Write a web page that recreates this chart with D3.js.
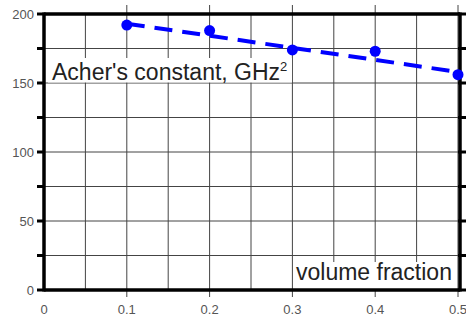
<!DOCTYPE html>
<html><head><meta charset="utf-8">
<script src="https://cdn.jsdelivr.net/npm/d3@7"></script>
<style>body{margin:0;background:#fff}svg{display:block}</style>
</head><body>
<script>
const xVals = [0.1, 0.2, 0.3, 0.4, 0.5];
const yVals = [192, 188, 174, 173, 156];
const fitX = [0.1, 0.5];
const fitY = [193, 158];
const xTicks = [0, 0.1, 0.2, 0.3, 0.4, 0.5];
const xTickLabels = ["0", "0.1", "0.2", "0.3", "0.4", "0.5"];
const yTicks = [0, 50, 100, 150, 200];
const yTickLabels = ["0", "50", "100", "150", "200"];
const xGrid = [0.05, 0.1, 0.15, 0.2, 0.25, 0.3, 0.35, 0.4, 0.45, 0.5];
const yGrid = [25, 50, 75, 100, 125, 150, 175, 200];

const W = 466, H = 320;
const FONT = "Arial, Liberation Sans, sans-serif";
const svg = d3.select("body").append("svg").attr("width", W).attr("height", H);
const x = d3.scaleLinear().domain([0, 0.5]).range([44, 458]);
const y = d3.scaleLinear().domain([0, 200]).range([290, 14]);

const grid = svg.append("g").attr("stroke", "#444").attr("stroke-width", 1);
xGrid.forEach(v => {
  const major = Math.abs(v*10 - Math.round(v*10)) < 1e-6;
  grid.append("line").attr("x1", x(v)).attr("x2", x(v))
    .attr("y1", major ? 5 : y(200)).attr("y2", major ? 297 : y(0));
});
yGrid.forEach(v => {
  grid.append("line").attr("x1", x(0)).attr("x2", x(0.5)).attr("y1", y(v)).attr("y2", y(v));
});
// thick ticks on left and right
const tk = svg.append("g").attr("stroke", "#000").attr("stroke-width", 3);
yGrid.concat([0]).forEach(v => {
  tk.append("line").attr("x1", 37).attr("x2", x(0)).attr("y1", y(v)).attr("y2", y(v));
  tk.append("line").attr("x1", x(0.5)).attr("x2", W).attr("y1", y(v)).attr("y2", y(v));
});

// label boxes (white, hiding grid)
svg.append("rect").attr("x", 48).attr("y", 58).attr("width", 244).attr("height", 24.5).attr("fill", "#fff");
svg.append("rect").attr("x", 294).attr("y", 262).attr("width", 162).attr("height", 27).attr("fill", "#fff");

// frame
const fr = svg.append("g").attr("stroke", "#000").attr("stroke-width", 3.5).attr("fill", "none");
fr.append("line").attr("x1", x(0)).attr("x2", x(0.5)+2).attr("y1", y(200)).attr("y2", y(200));
fr.append("line").attr("x1", x(0)).attr("x2", x(0.5)+2).attr("y1", y(0)).attr("y2", y(0));
fr.append("line").attr("x1", x(0)).attr("x2", x(0)).attr("y1", y(200)-1.5).attr("y2", y(0)+1.5);
fr.append("line").attr("x1", x(0.5)+2).attr("x2", x(0.5)+2).attr("y1", y(200)-1.5).attr("y2", y(0)+1.5);

// tick labels
svg.append("g").selectAll("text").data(yTicks).join("text")
  .attr("x", 34).attr("y", d => y(d)).attr("dy", "0.35em").attr("text-anchor", "end")
  .attr("font-family", FONT).attr("font-size", 13).attr("fill", "#555")
  .text((d, i) => yTickLabels[i]);
svg.append("g").selectAll("text").data(xTicks).join("text")
  .attr("x", d => x(d)).attr("y", 314).attr("text-anchor", "middle")
  .attr("font-family", FONT).attr("font-size", 13).attr("fill", "#555")
  .text((d, i) => xTickLabels[i]);

// fit line
const line = d3.line().x(d => x(d[0])).y(d => y(d[1]));
svg.append("path").datum(fitX.map((v, i) => [v, fitY[i]])).attr("d", line)
  .attr("fill", "none").attr("stroke", "#0000ff").attr("stroke-width", 4)
  .attr("stroke-dasharray", "18,10");
// points
svg.append("g").selectAll("circle").data(xVals).join("circle")
  .attr("cx", d => x(d)).attr("cy", (d, i) => y(yVals[i])).attr("r", 5.5).attr("fill", "#0000ff");

// labels
svg.append("text").attr("x", 52).attr("y", 80)
  .attr("font-family", FONT).attr("font-size", 23).attr("fill", "#222")
  .html("Acher's constant, GHz<tspan dy='-9' font-size='13'>2</tspan>");
svg.append("text").attr("x", 296).attr("y", 280)
  .attr("font-family", FONT).attr("font-size", 23).attr("fill", "#222")
  .text("volume fraction");
</script>
</body></html>
